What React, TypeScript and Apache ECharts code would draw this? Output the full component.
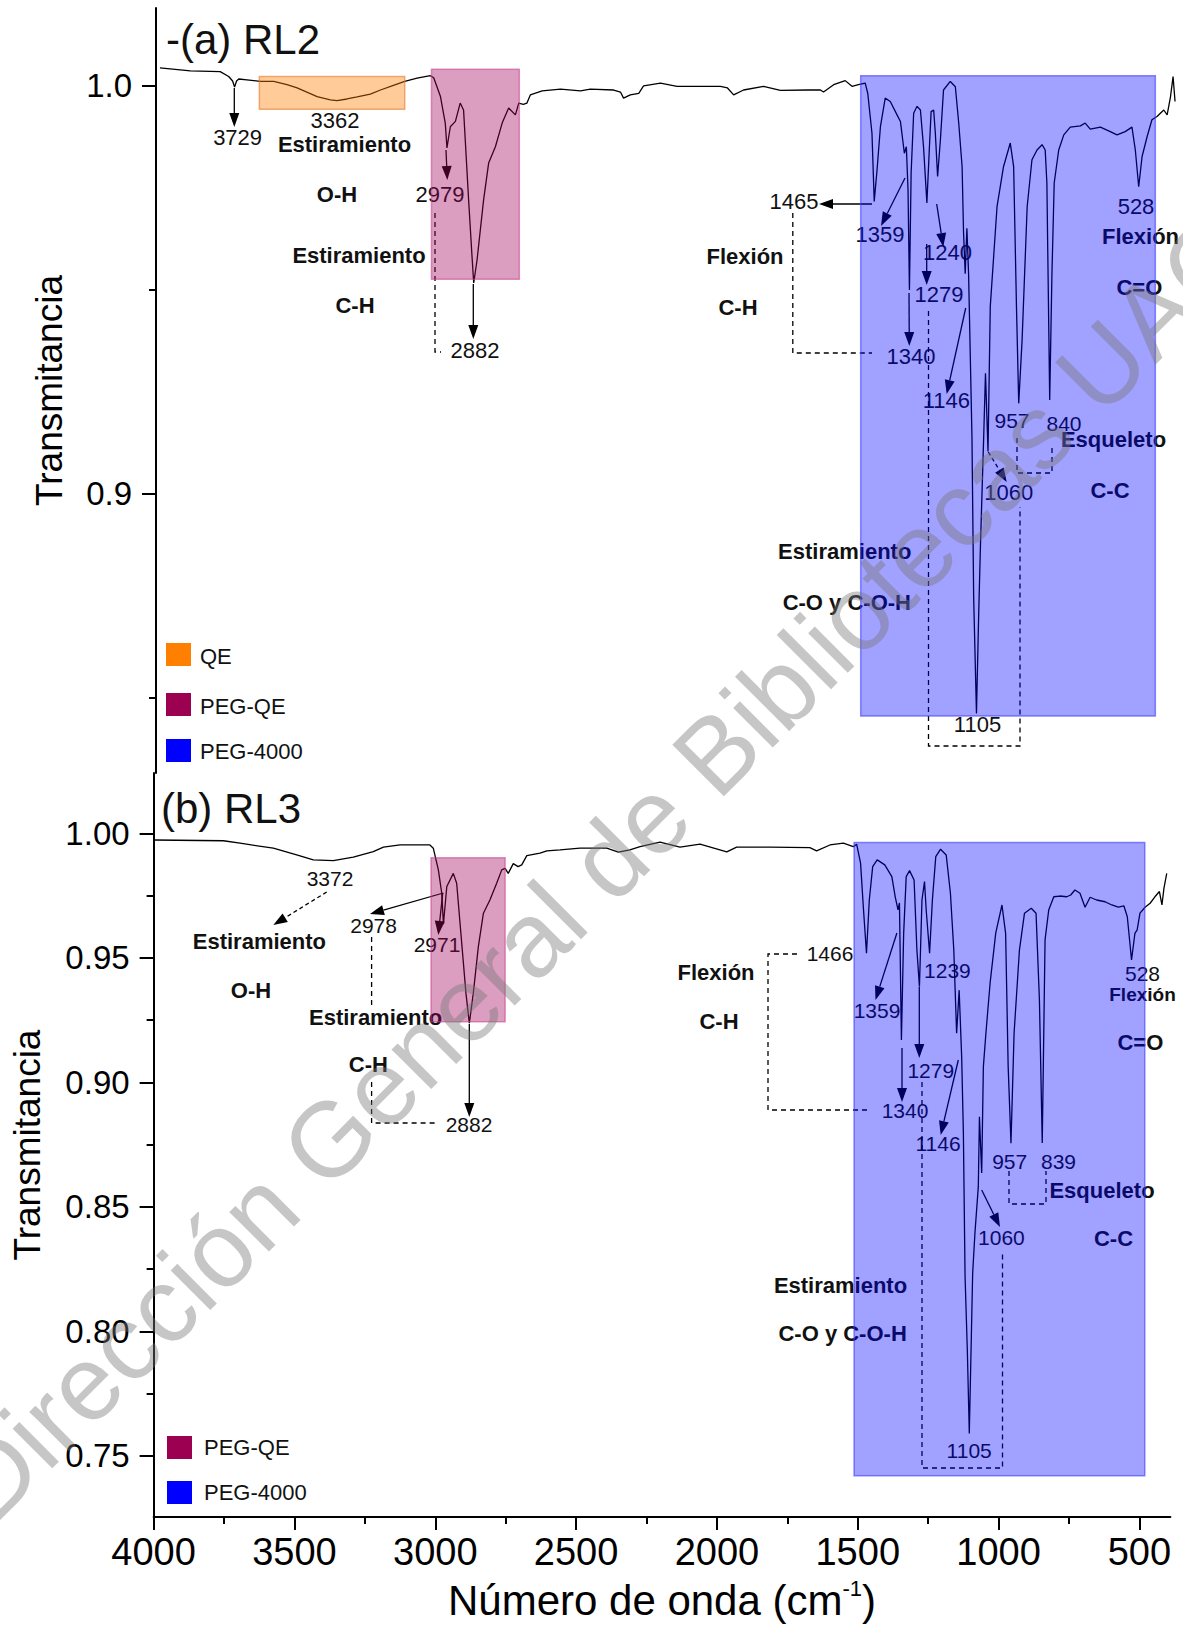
import React, { useEffect, useRef } from "react";
import * as echarts from "echarts";

// ---------- DATA ----------
const rl2Wavenumber = [4000, 3892, 3786, 3756, 3742, 3735, 3728, 3720, 3691, 3644, 3596, 3549, 3513, 3442, 3395, 3371, 3336, 3300, 3253, 3217, 3176, 3131, 3087, 3040, 3028, 3004, 2987, 2981, 2969, 2951, 2934, 2922, 2904, 2892, 2886, 2874, 2851, 2833, 2809, 2785, 2762, 2738, 2726, 2710, 2697, 2685, 2643, 2578, 2507, 2472, 2389, 2365, 2354, 2330, 2300, 2283, 2223, 2164, 2010, 1985, 1963, 1928, 1857, 1797, 1700, 1655, 1644, 1608, 1567, 1543, 1520, 1496, 1487, 1472, 1464, 1454, 1442, 1425, 1407, 1383, 1371, 1357, 1350, 1344, 1339, 1333, 1324, 1312, 1300, 1289, 1277, 1268, 1262, 1253, 1247, 1239, 1229, 1218, 1194, 1176, 1164, 1152, 1147, 1141, 1135, 1129, 1117, 1111, 1101, 1093, 1087, 1075, 1069, 1060, 1052, 1028, 1005, 981, 969, 959, 951, 939, 921, 904, 886, 868, 857, 851, 841, 833, 825, 809, 791, 768, 732, 715, 697, 661, 626, 602, 573, 549, 537, 525, 513, 495, 478, 460, 436, 424, 412, 403, 396];
const rl2Transmittance = [1.0044, 1.0037, 1.0035, 1.0023, 1.0012, 0.9997, 1.0012, 1.0017, 1.0015, 1.0011, 1.0011, 1.0003, 0.9995, 0.9974, 0.9966, 0.9964, 0.9968, 0.9973, 0.998, 0.999, 1.0, 1.0011, 1.0019, 1.0025, 1.002, 0.9974, 0.9909, 0.9848, 0.99, 0.9913, 0.9958, 0.9941, 0.972, 0.9582, 0.9517, 0.9574, 0.972, 0.9811, 0.9851, 0.9909, 0.9946, 0.9929, 0.9958, 0.9955, 0.9958, 0.9978, 0.9988, 0.9992, 0.9988, 0.9992, 0.999, 0.9985, 0.997, 0.9978, 0.9982, 1.0, 1.0007, 0.9999, 0.9999, 0.9995, 0.9978, 0.999, 0.9999, 0.9989, 0.999, 0.999, 0.9985, 1.0003, 1.0013, 0.9999, 1.0003, 1.0007, 0.9982, 0.9884, 0.9717, 0.9794, 0.99, 0.997, 0.9962, 0.9929, 0.9913, 0.9835, 0.9851, 0.9745, 0.95, 0.9786, 0.9933, 0.995, 0.9941, 0.9851, 0.9713, 0.9851, 0.9937, 0.9941, 0.9884, 0.9778, 0.9868, 0.999, 1.0011, 0.9998, 0.9909, 0.9802, 0.9643, 0.954, 0.9651, 0.954, 0.914, 0.8748, 0.8462, 0.8708, 0.887, 0.9149, 0.9296, 0.9104, 0.9459, 0.9704, 0.9802, 0.986, 0.9802, 0.9459, 0.9222, 0.9377, 0.9704, 0.9819, 0.9843, 0.9856, 0.9843, 0.9762, 0.923, 0.9541, 0.9762, 0.9843, 0.988, 0.9899, 0.9902, 0.9909, 0.9894, 0.9899, 0.9888, 0.988, 0.9888, 0.9899, 0.9843, 0.9753, 0.9827, 0.9876, 0.9917, 0.9925, 0.9941, 0.9929, 0.9974, 1.0023, 0.9962];

const rl3Wavenumber = [4000, 3752, 3693, 3575, 3492, 3433, 3362, 3291, 3220, 3184, 3125, 3019, 3007, 2989, 2977, 2971, 2959, 2936, 2924, 2906, 2891, 2879, 2865, 2847, 2829, 2806, 2782, 2764, 2752, 2741, 2723, 2706, 2693, 2675, 2628, 2604, 2557, 2486, 2391, 2350, 2309, 2273, 2202, 2131, 2060, 1965, 1930, 1812, 1670, 1646, 1599, 1551, 1516, 1504, 1490, 1480, 1469, 1459, 1447, 1431, 1404, 1379, 1367, 1357, 1352, 1345, 1337, 1328, 1316, 1300, 1290, 1281, 1272, 1263, 1257, 1245, 1235, 1223, 1206, 1186, 1171, 1159, 1149, 1140, 1131, 1125, 1119, 1111, 1104, 1099, 1092, 1084, 1072, 1068, 1060, 1054, 1045, 1030, 1010, 988, 975, 966, 956, 945, 926, 908, 884, 867, 855, 845, 835, 822, 804, 783, 758, 744, 729, 711, 693, 675, 652, 622, 598, 575, 555, 543, 528, 516, 508, 498, 480, 462, 445, 429, 420, 413, 403];
const rl3Transmittance = [0.9973, 0.997, 0.996, 0.994, 0.9913, 0.9893, 0.989, 0.9904, 0.9926, 0.9944, 0.9953, 0.9953, 0.994, 0.9853, 0.9759, 0.9635, 0.9786, 0.9839, 0.9799, 0.9558, 0.9357, 0.9237, 0.9357, 0.9545, 0.9679, 0.9732, 0.9799, 0.9853, 0.9859, 0.9839, 0.9878, 0.9866, 0.9873, 0.991, 0.992, 0.9929, 0.9933, 0.994, 0.994, 0.9924, 0.9933, 0.9946, 0.9964, 0.9944, 0.9956, 0.9925, 0.9944, 0.9944, 0.9942, 0.9929, 0.9953, 0.996, 0.9946, 0.9956, 0.988, 0.97, 0.9518, 0.9732, 0.9866, 0.9893, 0.9873, 0.9826, 0.9745, 0.9692, 0.972, 0.917, 0.9598, 0.9826, 0.985, 0.9812, 0.9531, 0.9384, 0.9732, 0.9806, 0.9692, 0.9518, 0.9732, 0.9906, 0.9936, 0.9913, 0.9759, 0.9531, 0.9197, 0.937, 0.91, 0.8796, 0.8219, 0.7925, 0.759, 0.7858, 0.8234, 0.8394, 0.8581, 0.8862, 0.8636, 0.9063, 0.9197, 0.94, 0.96, 0.9712, 0.9598, 0.9063, 0.8755, 0.9197, 0.9531, 0.9679, 0.9699, 0.9679, 0.933, 0.8756, 0.9572, 0.9692, 0.9745, 0.9748, 0.9745, 0.9752, 0.9772, 0.9759, 0.9703, 0.9743, 0.9732, 0.9725, 0.9712, 0.9703, 0.9708, 0.9665, 0.9491, 0.9598, 0.9612, 0.9679, 0.9703, 0.9719, 0.9745, 0.9766, 0.9712, 0.9779, 0.9839];

const xTickValues = [4000, 3500, 3000, 2500, 2000, 1500, 1000, 500];
const xMinorTickValues = [3750, 3250, 2750, 2250, 1750, 1250, 750];
const topYTicks = [0.9, 1.0];
const topYMinorTicks = [0.85, 0.95];
const bottomYTicks = [0.75, 0.8, 0.85, 0.9, 0.95, 1.0];
const bottomYMinorTicks = [0.775, 0.825, 0.875, 0.925, 0.975];

// assignment bands [from wavenumber, to wavenumber, low T, high T]
const rl2BandNames = ["QE", "PEG-QE", "PEG-4000"];
const rl2BandFrom = [3647, 3036, 1512];
const rl2BandTo = [3131, 2724, 466];
const rl2BandLow = [0.9943, 0.9526, 0.8456];
const rl2BandHigh = [1.0023, 1.0041, 1.0025];
const rl3BandNames = ["PEG-QE", "PEG-4000"];
const rl3BandFrom = [3015, 1513];
const rl3BandTo = [2752, 481];
const rl3BandLow = [0.9243, 0.742];
const rl3BandHigh = [0.9902, 0.9963];

const FF = '"Liberation Sans", Arial, sans-serif';
const BAND_COLORS: Record<string, [string, string, string]> = {
  QE: ["rgba(255,128,0,0.4)", "rgba(230,120,40,0.6)", "#ff8000"],
  "PEG-QE": ["rgba(160,0,90,0.38)", "rgba(200,60,140,0.55)", "#9c0050"],
  "PEG-4000": ["rgba(0,0,255,0.37)", "rgba(60,60,255,0.6)", "#0000ff"],
};

function zip(a: number[], b: number[]) {
  return a.map((v, i) => [v, b[i]]);
}

function txt(t: string, x: number, y: number, bold: boolean, size: number, align = "center") {
  return {
    type: "text",
    x,
    y,
    z: 1,
    silent: true,
    style: {
      text: t,
      fill: "#111",
      font: `${bold ? "bold " : ""}${size}px ${FF}`,
      textAlign: align,
      align,
      textVerticalAlign: "middle",
      verticalAlign: "middle",
    },
  };
}

function arrow(x1: number, y1: number, x2: number, y2: number, dashed = false) {
  const dx = x2 - x1, dy = y2 - y1;
  const L = Math.hypot(dx, dy);
  const ux = dx / L, uy = dy / L;
  const hl = 14, hw = 5;
  const bx = x2 - ux * hl, by = y2 - uy * hl;
  return [
    {
      type: "line", z: 1, silent: true,
      shape: { x1, y1, x2: bx, y2: by },
      style: { stroke: "#000", lineWidth: 1.3, lineDash: dashed ? [4, 3] : [0, 0] },
    },
    {
      type: "polygon", z: 1, silent: true,
      shape: { points: [[x2, y2], [bx - uy * hw, by + ux * hw], [bx + uy * hw, by - ux * hw]] },
      style: { fill: "#000" },
    },
  ];
}

function dashed(points: number[][]) {
  return {
    type: "polyline", z: 1, silent: true,
    shape: { points },
    style: { stroke: "#000", lineWidth: 1.3, lineDash: [5, 4], fill: null },
  };
}

function square(x: number, y: number, color: string) {
  return { type: "rect", z: 1, silent: true, shape: { x, y, width: 25, height: 23 }, style: { fill: color } };
}

export default function App() {
  const ref = useRef<HTMLDivElement>(null);

  useEffect(() => {
    document.body.style.margin = "0";
    const chart = echarts.init(ref.current!, null, { renderer: "svg", width: 1183, height: 1627 });

    const axisCommon = {
      type: "value",
      splitLine: { show: false },
    };
    const XF = "Liberation Sans Narrow, Liberation Sans, Arial, sans-serif";

    const option: any = {
      animation: false,
      backgroundColor: "#ffffff",
      grid: [
        { left: 156, top: 8, width: 1019.6, height: 765 },
        { left: 153.6, top: 773, width: 1016.8, height: 744.1 },
      ],
      xAxis: [
        { ...axisCommon, gridIndex: 0, min: 394, max: 4014, inverse: true, show: false },
        {
          ...axisCommon, gridIndex: 1, position: "bottom", min: 390, max: 4000, inverse: true,
          axisLine: { show: true, lineStyle: { color: "#000", width: 2 } },
          axisTick: { show: true, customValues: xTickValues, length: 13, lineStyle: { color: "#000", width: 2 } },
          axisLabel: {
            customValues: xTickValues, margin: 16, color: "#000", fontSize: 38,
            fontFamily: XF,
            formatter: (v: number) => String(v),
          },
          name: "{a|Número de onda (cm}{s|-1}{a|)}",
          nameLocation: "middle",
          nameGap: 60,
          nameTextStyle: {
            rich: {
              a: { fontSize: 42, fontFamily: XF, color: "#000", lineHeight: 46 },
              s: { fontSize: 22, fontFamily: XF, color: "#000", verticalAlign: "top", lineHeight: 46 },
            },
          },
        },
        {
          ...axisCommon, gridIndex: 1, position: "bottom", offset: 0, min: 390, max: 4000, inverse: true,
          axisLine: { show: false },
          axisTick: { show: true, customValues: xMinorTickValues, length: 7, lineStyle: { color: "#000", width: 2 } },
          axisLabel: { show: false },
        },
      ],
      yAxis: [
        {
          ...axisCommon, gridIndex: 0, position: "left", min: 0.8316, max: 1.0191,
          axisLine: { show: true, lineStyle: { color: "#000", width: 2 } },
          axisTick: { show: true, customValues: topYTicks, length: 14, lineStyle: { color: "#000", width: 2 } },
          axisLabel: {
            customValues: topYTicks, margin: 24, color: "#000", fontSize: 33, fontFamily: FF,
            formatter: (v: number) => v.toFixed(1),
          },
          name: "Transmitancia", nameLocation: "middle", nameGap: 88,
          nameTextStyle: { fontSize: 37, fontFamily: FF, color: "#000" },
        },
        {
          ...axisCommon, gridIndex: 0, position: "left", offset: 0, min: 0.8316, max: 1.0191,
          axisLine: { show: false },
          axisTick: { show: true, customValues: topYMinorTicks, length: 7, lineStyle: { color: "#000", width: 2 } },
          axisLabel: { show: false },
        },
        {
          ...axisCommon, gridIndex: 1, position: "left", min: 0.7254, max: 1.0242,
          axisLine: { show: true, lineStyle: { color: "#000", width: 2 } },
          axisTick: { show: true, customValues: bottomYTicks, length: 14, lineStyle: { color: "#000", width: 2 } },
          axisLabel: {
            customValues: bottomYTicks, margin: 24, color: "#000", fontSize: 33, fontFamily: FF,
            formatter: (v: number) => v.toFixed(2),
          },
          name: "Transmitancia", nameLocation: "middle", nameGap: 108,
          nameTextStyle: { fontSize: 37, fontFamily: FF, color: "#000" },
        },
        {
          ...axisCommon, gridIndex: 1, position: "left", offset: 0, min: 0.7254, max: 1.0242,
          axisLine: { show: false },
          axisTick: { show: true, customValues: bottomYMinorTicks, length: 7, lineStyle: { color: "#000", width: 2 } },
          axisLabel: { show: false },
        },
      ],
      series: [
        {
          type: "line", xAxisIndex: 0, yAxisIndex: 0, data: zip(rl2Wavenumber, rl2Transmittance),
          symbol: "none", showSymbol: false, lineStyle: { color: "#000", width: 1.3 }, z: 2, silent: true,
        },
        {
          type: "line", xAxisIndex: 1, yAxisIndex: 2, data: zip(rl3Wavenumber, rl3Transmittance),
          symbol: "none", showSymbol: false, lineStyle: { color: "#000", width: 1.3 }, z: 2, silent: true,
        },
      ],
    };

    chart.setOption(option);

    const px = (si: number, x: number, y: number) => chart.convertToPixel({ seriesIndex: si }, [x, y]) as number[];
    const bandRects: any[] = [];
    const addBands = (si: number, names: string[], from: number[], to: number[], low: number[], high: number[]) => {
      names.forEach((n, i) => {
        const p1 = px(si, from[i], high[i]);
        const p2 = px(si, to[i], low[i]);
        const [fill, stroke] = BAND_COLORS[n];
        bandRects.push({
          type: "rect", z: 10, silent: true,
          shape: { x: Math.min(p1[0], p2[0]), y: Math.min(p1[1], p2[1]), width: Math.abs(p2[0] - p1[0]), height: Math.abs(p2[1] - p1[1]) },
          style: { fill, stroke, lineWidth: 1.5 },
        });
      });
    };
    addBands(0, rl2BandNames, rl2BandFrom, rl2BandTo, rl2BandLow, rl2BandHigh);
    addBands(1, rl3BandNames, rl3BandFrom, rl3BandTo, rl3BandLow, rl3BandHigh);

    const N = 22, B = 22;
    const annotations: any[] = [
      // titles
      txt("-(a) RL2", 166, 39, false, 42, "left"),
      txt("(b) RL3", 161, 808, false, 42, "left"),
      // top panel
      txt("3729", 237.6, 137, false, N),
      txt("3362", 335, 120.4, false, N),
      txt("Estiramiento", 344.5, 144.2, true, B),
      txt("O-H", 337, 194, true, B),
      txt("2979", 440, 194, false, N),
      txt("Estiramiento", 359, 255.3, true, B),
      txt("C-H", 355, 305, true, B),
      txt("2882", 475, 350, false, N),
      txt("1465", 794, 201.3, false, N),
      txt("1359", 880, 234.5, false, N),
      txt("1240", 947.4, 252, false, N),
      txt("1279", 939, 294.7, false, N),
      txt("Flexión", 745, 256.3, true, B),
      txt("C-H", 738, 307, true, B),
      txt("1340", 911, 356, false, N),
      txt("1146", 946.4, 400.5, false, N),
      txt("957", 1012, 420, false, 21),
      txt("840", 1064, 423.4, false, 21),
      txt("Esqueleto", 1113.5, 439, true, B),
      txt("1060", 1008.7, 492, false, N),
      txt("C-C", 1110, 490, true, B),
      txt("Estiramiento", 844.7, 551, true, B),
      txt("C-O y C-O-H", 846.8, 602, true, B),
      txt("1105", 977.5, 724.3, false, N),
      txt("528", 1136, 206.5, false, N),
      txt("Flexión", 1102, 236.6, true, B, "left"),
      txt("C=O", 1139.4, 287.4, true, B),
      // top legend
      square(166, 643, BAND_COLORS["QE"][2]),
      square(166, 693, BAND_COLORS["PEG-QE"][2]),
      square(166, 739, BAND_COLORS["PEG-4000"][2]),
      txt("QE", 200, 656, false, 22, "left"),
      txt("PEG-QE", 200, 706, false, 22, "left"),
      txt("PEG-4000", 200, 751, false, 22, "left"),
      // bottom panel
      txt("3372", 330, 878, false, 21),
      txt("Estiramiento", 259.4, 941, true, B),
      txt("O-H", 251, 990, true, B),
      txt("2978", 373.6, 925.6, false, 21),
      txt("2971", 437, 944, false, 21),
      txt("Estiramiento", 375.6, 1017, true, B),
      txt("C-H", 368.4, 1064.7, true, B),
      txt("2882", 469, 1124, false, 21),
      txt("1466", 830, 953.6, false, 21),
      txt("Flexión", 716, 972, true, B),
      txt("C-H", 719, 1021, true, B),
      txt("1359", 877, 1010.7, false, 21),
      txt("1239", 947.4, 970, false, 21),
      txt("1279", 930.8, 1070, false, 21),
      txt("1340", 905, 1110, false, 21),
      txt("1146", 938, 1143.5, false, 21),
      txt("957", 1009.7, 1161, false, 21),
      txt("839", 1058.5, 1161, false, 21),
      txt("Esqueleto", 1102, 1190, true, B),
      txt("1060", 1001.4, 1237, false, 21),
      txt("C-C", 1113.5, 1238, true, B),
      txt("Estiramiento", 840.5, 1285.7, true, B),
      txt("C-O y C-O-H", 842.6, 1333.4, true, B),
      txt("1105", 969.2, 1450.7, false, 21),
      txt("528", 1142.5, 973.4, false, 21),
      txt("Flexión", 1142.5, 994, true, 19),
      txt("C=O", 1140.4, 1042, true, B),
      // bottom legend
      square(167, 1436, BAND_COLORS["PEG-QE"][2]),
      square(167, 1481, BAND_COLORS["PEG-4000"][2]),
      txt("PEG-QE", 204, 1447, false, 22, "left"),
      txt("PEG-4000", 204, 1492, false, 22, "left"),
      // top arrows
      ...arrow(234.3, 88, 234.3, 127),
      ...arrow(446, 150, 447.3, 180),
      ...arrow(473.3, 284, 473.3, 339),
      ...arrow(872, 204, 819, 204),
      ...arrow(905, 178, 881, 226),
      ...arrow(909, 293, 909.3, 346),
      ...arrow(926.7, 244, 926.7, 285),
      ...arrow(936.7, 204, 943.3, 247),
      ...arrow(965.7, 308, 946.7, 394),
      ...arrow(988.3, 452, 1006.7, 482, true),
      dashed([[435, 213], [435, 352], [441, 352]]),
      dashed([[792.8, 213], [792.8, 353], [872, 353]]),
      dashed([[928.5, 311], [928.5, 746], [1020, 746], [1020, 507]]),
      dashed([[1017, 438], [1017, 473], [1052, 473], [1052, 448]]),
      // bottom arrows
      ...arrow(326.7, 892, 273.3, 925, true),
      ...arrow(443.3, 893, 370, 914),
      ...arrow(442.7, 893, 438.3, 935),
      ...arrow(469.3, 1024, 469.3, 1117),
      ...arrow(896.9, 933, 875.5, 1000),
      ...arrow(902, 1048, 902, 1102),
      ...arrow(919.3, 987, 919.3, 1058),
      ...arrow(958.3, 1060, 940.7, 1135),
      ...arrow(981.7, 1190, 1000, 1227),
      dashed([[371.6, 937], [371.6, 1008]]),
      dashed([[371.6, 1082], [371.6, 1123], [438, 1123]]),
      dashed([[797, 954], [768, 954], [768, 1110], [868, 1110]]),
      dashed([[922, 1082], [922, 1468], [1002.5, 1468], [1002.5, 1251]]),
      dashed([[1009, 1171], [1009, 1204], [1046, 1204], [1046, 1171]]),
    ];

    const watermark = {
      type: "text", z: 100, silent: true,
      x: 602, y: 866, rotation: Math.PI / 4,
      style: {
        text: "Dirección General de Bibliotecas UAQ",
        fill: "rgba(120,120,120,0.42)",
        font: `106px ${FF}`,
        textAlign: "center", align: "center",
        textVerticalAlign: "middle", verticalAlign: "middle",
      },
    };

    chart.setOption({ graphic: [...annotations, ...bandRects, watermark] });

    return () => chart.dispose();
  }, []);

  return <div ref={ref} style={{ position: "absolute", left: 0, top: 0, width: 1183, height: 1627 }} />;
}
